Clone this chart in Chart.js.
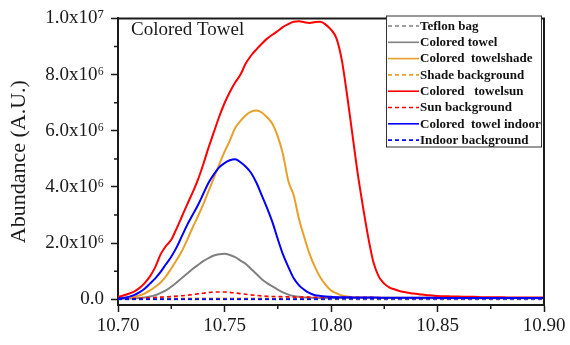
<!DOCTYPE html>
<html>
<head>
<meta charset="utf-8">
<script src="https://cdn.jsdelivr.net/npm/chart.js@4.4.1/dist/chart.umd.min.js"></script>
<style>
  html, body { margin: 0; padding: 0; background: #ffffff; }
  #wrap { width: 570px; height: 345px; }
</style>
</head>
<body>
<div id="wrap"><canvas id="chart" width="570" height="345"></canvas></div>
<script>
// Retention time (min) for the towel traces
const retentionTime = [
  10.7000,10.7025,10.7050,10.7075,10.7100,10.7125,10.7150,10.7175,10.7200,10.7225,
  10.7250,10.7275,10.7300,10.7325,10.7350,10.7375,10.7400,10.7425,10.7450,10.7475,
  10.7500,10.7525,10.7550,10.7575,10.7600,10.7625,10.7650,10.7675,10.7700,10.7725,
  10.7750,10.7775,10.7800,10.7825,10.7850,10.7875,10.7900,10.7925,10.7950,10.7975,
  10.8000,10.8025,10.8050,10.8075,10.8100,10.8125,10.8150,10.8175,10.8200,10.8225,
  10.8250,10.8275,10.8300,10.8325,10.8350,10.8375,10.8400,10.8425,10.8450,10.8475,
  10.8500,10.8525,10.8550,10.8575,10.8600,10.8625,10.8650,10.8675,10.8700,10.8725,
  10.8750,10.8775,10.8800,10.8825,10.8850,10.8875,10.8900,10.8925,10.8950,10.8975,10.9000
];
// Retention time (min) for the background traces
const retentionTimeBg = [
  10.700,10.705,10.710,10.715,10.720,10.725,10.730,10.735,10.740,10.745,
  10.750,10.755,10.760,10.765,10.770,10.775,10.780,10.785,10.790,10.795,
  10.800,10.805,10.810,10.815,10.820,10.825,10.830,10.835,10.840,10.845,
  10.850,10.855,10.860,10.865,10.870,10.875,10.880,10.885,10.890,10.895,10.900
];

// Abundance, in units of 10^6 A.U.
const coloredTowel = [
  0.02,0.02,0.03,0.04,0.05,0.07,0.10,0.15,0.23,0.32,
  0.45,0.60,0.76,0.92,1.08,1.22,1.36,1.47,1.56,1.61,
  1.62,1.58,1.50,1.38,1.26,1.08,0.90,0.72,0.58,0.46,
  0.35,0.25,0.17,0.12,0.09,0.07,0.06,0.05,0.05,0.05,
  0.05,0.05,0.05,0.05,0.05,0.05,0.05,0.05,0.05,0.05,
  0.05,0.05,0.05,0.05,0.05,0.04,0.04,0.04,0.04,0.04,
  0.04,0.04,0.04,0.04,0.04,0.04,0.04,0.04,0.04,0.04,
  0.04,0.04,0.04,0.04,0.04,0.04,0.04,0.04,0.04,0.04,0.04
];
const coloredTowelShade = [
  0.03,0.04,0.06,0.09,0.14,0.21,0.32,0.45,0.60,0.82,
  1.10,1.40,1.72,2.12,2.55,2.95,3.38,3.85,4.32,4.80,
  5.25,5.65,6.10,6.35,6.55,6.68,6.72,6.65,6.48,6.25,
  5.80,5.15,4.20,3.70,2.85,2.20,1.60,1.15,0.78,0.52,
  0.32,0.22,0.14,0.10,0.08,0.07,0.07,0.07,0.06,0.06,
  0.06,0.06,0.06,0.06,0.06,0.06,0.06,0.06,0.06,0.06,
  0.05,0.05,0.05,0.05,0.05,0.05,0.05,0.05,0.05,0.05,
  0.05,0.05,0.05,0.05,0.05,0.05,0.05,0.05,0.05,0.05,0.05
];
const coloredTowelSun = [
  0.09,0.14,0.20,0.28,0.40,0.58,0.82,1.15,1.60,1.90,
  2.12,2.52,2.95,3.38,3.80,4.25,4.80,5.40,5.95,6.50,
  6.98,7.38,7.72,8.00,8.40,8.68,8.90,9.10,9.28,9.42,
  9.55,9.70,9.80,9.88,9.90,9.86,9.84,9.87,9.88,9.78,
  9.60,9.30,8.55,7.30,5.90,4.50,3.30,2.20,1.30,0.80,
  0.56,0.42,0.35,0.29,0.25,0.22,0.20,0.17,0.15,0.14,
  0.12,0.11,0.11,0.10,0.10,0.09,0.09,0.09,0.08,0.08,
  0.08,0.08,0.08,0.07,0.07,0.07,0.07,0.07,0.07,0.07,0.07
];
const coloredTowelIndoor = [
  0.03,0.05,0.09,0.15,0.25,0.38,0.56,0.75,0.98,1.25,
  1.52,1.85,2.25,2.65,3.00,3.35,3.75,4.15,4.45,4.70,
  4.85,4.95,4.99,4.88,4.72,4.50,4.15,3.70,3.25,2.75,
  2.15,1.59,1.15,0.75,0.50,0.34,0.22,0.15,0.12,0.10,
  0.09,0.08,0.08,0.08,0.07,0.07,0.07,0.07,0.07,0.06,
  0.06,0.06,0.06,0.06,0.06,0.06,0.06,0.06,0.06,0.06,
  0.05,0.05,0.05,0.05,0.05,0.05,0.05,0.05,0.05,0.05,
  0.05,0.05,0.05,0.05,0.05,0.05,0.05,0.05,0.05,0.05,0.05
];
const teflonBag = [
  0.00,0.00,0.00,0.00,0.00,0.00,0.00,0.00,0.00,0.00,
  0.00,0.00,0.00,0.00,0.00,0.00,0.00,0.00,0.00,0.00,
  0.00,0.00,0.00,0.00,0.00,0.00,0.00,0.00,0.00,0.00,
  0.00,0.00,0.00,0.00,0.00,0.00,0.00,0.00,0.00,0.00,0.00
];
const shadeBackground = [
  0.03,0.03,0.03,0.03,0.04,0.04,0.04,0.04,0.04,0.04,
  0.04,0.04,0.04,0.04,0.04,0.04,0.04,0.04,0.04,0.04,
  0.04,0.04,0.04,0.04,0.04,0.04,0.04,0.04,0.04,0.04,
  0.04,0.04,0.04,0.04,0.04,0.04,0.04,0.04,0.04,0.04,0.04
];
const sunBackground = [
  0.03,0.03,0.04,0.06,0.08,0.10,0.13,0.17,0.22,0.26,
  0.26,0.23,0.18,0.14,0.11,0.10,0.09,0.08,0.08,0.07,
  0.07,0.07,0.07,0.07,0.07,0.06,0.06,0.06,0.06,0.06,
  0.06,0.06,0.06,0.06,0.06,0.06,0.06,0.06,0.06,0.06,0.06
];
const indoorBackground = [
  0.01,0.01,0.01,0.01,0.01,0.01,0.01,0.01,0.01,0.01,
  0.01,0.01,0.01,0.01,0.01,0.01,0.01,0.01,0.01,0.01,
  0.02,0.02,0.02,0.02,0.02,0.02,0.02,0.02,0.02,0.02,
  0.02,0.02,0.02,0.02,0.02,0.02,0.02,0.02,0.02,0.02,0.02
];

// Axis ticks
const xTickValues = [10.70, 10.75, 10.80, 10.85, 10.90];
const xTickLabels = ['10.70', '10.75', '10.80', '10.85', '10.90'];
const xMinorTicks = [10.725, 10.775, 10.825, 10.875];
const yTickValues = [0, 2, 4, 6, 8, 10];
const yTickLabels = ['0.0', '2.0x10\u2076', '4.0x10\u2076', '6.0x10\u2076', '8.0x10\u2076', '1.0x10\u2077'];
const yMinorTicks = [1, 3, 5, 7, 9];

const SERIF = "'Liberation Serif', 'Times New Roman', serif";
const INK = '#1a1a1a';
const GRAY = '#808080';
const ORANGE = '#E8A02A';
const RED = '#FF0000';
const BLUE = '#0000FF';

function pairs(xs, ys) { return ys.map((v, i) => ({ x: xs[i], y: v })); }

const series = [
  { label: 'Teflon bag',            xs: retentionTimeBg, ys: teflonBag,          color: GRAY,   dashed: true },
  { label: 'Colored towel',         xs: retentionTime,   ys: coloredTowel,       color: GRAY,   dashed: false },
  { label: 'Colored  towelshade',   xs: retentionTime,   ys: coloredTowelShade,  color: ORANGE, dashed: false },
  { label: 'Shade background',      xs: retentionTimeBg, ys: shadeBackground,    color: ORANGE, dashed: true },
  { label: 'Colored   towelsun',    xs: retentionTime,   ys: coloredTowelSun,    color: RED,    dashed: false },
  { label: 'Sun background',        xs: retentionTimeBg, ys: sunBackground,      color: RED,    dashed: true },
  { label: 'Colored  towel indoor', xs: retentionTime,   ys: coloredTowelIndoor, color: BLUE,   dashed: false },
  { label: 'Indoor background',     xs: retentionTimeBg, ys: indoorBackground,   color: BLUE,   dashed: true }
];

const datasets = series.map((s, i) => ({
  label: s.label,
  data: pairs(s.xs, s.ys),
  borderColor: s.color,
  backgroundColor: s.color,
  borderWidth: s.dashed ? 1.6 : 2,
  borderDash: s.dashed ? [4, 3] : [],
  pointRadius: 0,
  fill: false,
  cubicInterpolationMode: 'monotone',
  order: series.length - i
}));

// Box frame, minor ticks, inset title and inset legend
const decorations = {
  id: 'decorations',
  afterDraw(chart) {
    const { ctx, chartArea: a, scales: { x, y } } = chart;
    ctx.save();
    ctx.strokeStyle = INK;
    ctx.lineWidth = 2;
    ctx.beginPath();
    ctx.moveTo(a.left - 1, a.top);
    ctx.lineTo(a.right, a.top);
    ctx.lineTo(a.right, a.bottom + 1);
    ctx.stroke();

    ctx.lineWidth = 1.5;
    ctx.beginPath();
    xMinorTicks.forEach(v => {
      const px = x.getPixelForValue(v);
      ctx.moveTo(px, a.bottom);
      ctx.lineTo(px, a.bottom + 4);
    });
    yMinorTicks.forEach(v => {
      const py = y.getPixelForValue(v);
      ctx.moveTo(a.left, py);
      ctx.lineTo(a.left - 4, py);
    });
    ctx.stroke();

    // inset title
    ctx.fillStyle = INK;
    ctx.font = '19px ' + SERIF;
    ctx.textAlign = 'left';
    ctx.textBaseline = 'alphabetic';
    ctx.fillText('Colored Towel', 131, 35);

    // inset legend
    const bx = 386, by = 15.5, bw = 155, bh = 131;
    ctx.fillStyle = '#ffffff';
    ctx.fillRect(bx, by, bw, bh);
    ctx.strokeStyle = '#333333';
    ctx.lineWidth = 1;
    ctx.strokeRect(bx + 0.5, by + 0.5, bw, bh);
    ctx.font = 'bold 13px ' + SERIF;
    ctx.textBaseline = 'middle';
    series.forEach((s, i) => {
      const ry = 26 + i * 16.3;
      ctx.strokeStyle = s.color;
      ctx.lineWidth = 1.6;
      ctx.setLineDash(s.dashed ? [4, 3] : []);
      ctx.beginPath();
      ctx.moveTo(bx + 2, ry);
      ctx.lineTo(bx + 33, ry);
      ctx.stroke();
      ctx.setLineDash([]);
      ctx.fillStyle = '#111111';
      ctx.fillText(s.label, bx + 34, ry + 0.5);
    });
    ctx.restore();
  }
};

new Chart(document.getElementById('chart'), {
  type: 'line',
  data: { datasets },
  plugins: [decorations],
  options: {
    responsive: false,
    devicePixelRatio: 1,
    animation: false,
    layout: { padding: { top: 10, right: 26, left: 0, bottom: 0 } },
    plugins: { legend: { display: false }, tooltip: { enabled: false } },
    scales: {
      x: {
        type: 'linear',
        min: 10.70,
        max: 10.90,
        afterBuildTicks: scale => { scale.ticks = xTickValues.map(v => ({ value: v })); },
        afterFit: scale => { scale.height = 40; },
        ticks: {
          autoSkip: false,
          maxRotation: 0,
          padding: 3,
          color: INK,
          font: { family: SERIF, size: 19 },
          callback: v => xTickLabels[xTickValues.findIndex(t => Math.abs(t - v) < 1e-6)]
        },
        grid: { drawOnChartArea: false, drawTicks: true, tickLength: 7, tickWidth: 1.5, tickColor: INK },
        border: { display: true, color: INK, width: 2 }
      },
      y: {
        type: 'linear',
        min: -0.2,
        max: 10,
        afterBuildTicks: scale => { scale.ticks = yTickValues.map(v => ({ value: v })); },
        afterFit: scale => { scale.width = 118; },
        ticks: {
          autoSkip: false,
          padding: 7,
          color: INK,
          font: { family: SERIF, size: 19 },
          callback: v => yTickLabels[yTickValues.findIndex(t => Math.abs(t - v) < 1e-6)]
        },
        grid: { drawOnChartArea: false, drawTicks: true, tickLength: 7, tickWidth: 1.5, tickColor: INK },
        border: { display: true, color: INK, width: 2 },
        title: {
          display: true,
          text: 'Abundance (A.U.)',
          color: INK,
          font: { family: SERIF, size: 22 },
          padding: { top: 6, bottom: 0 }
        }
      }
    }
  }
});
</script>
</body>
</html>
